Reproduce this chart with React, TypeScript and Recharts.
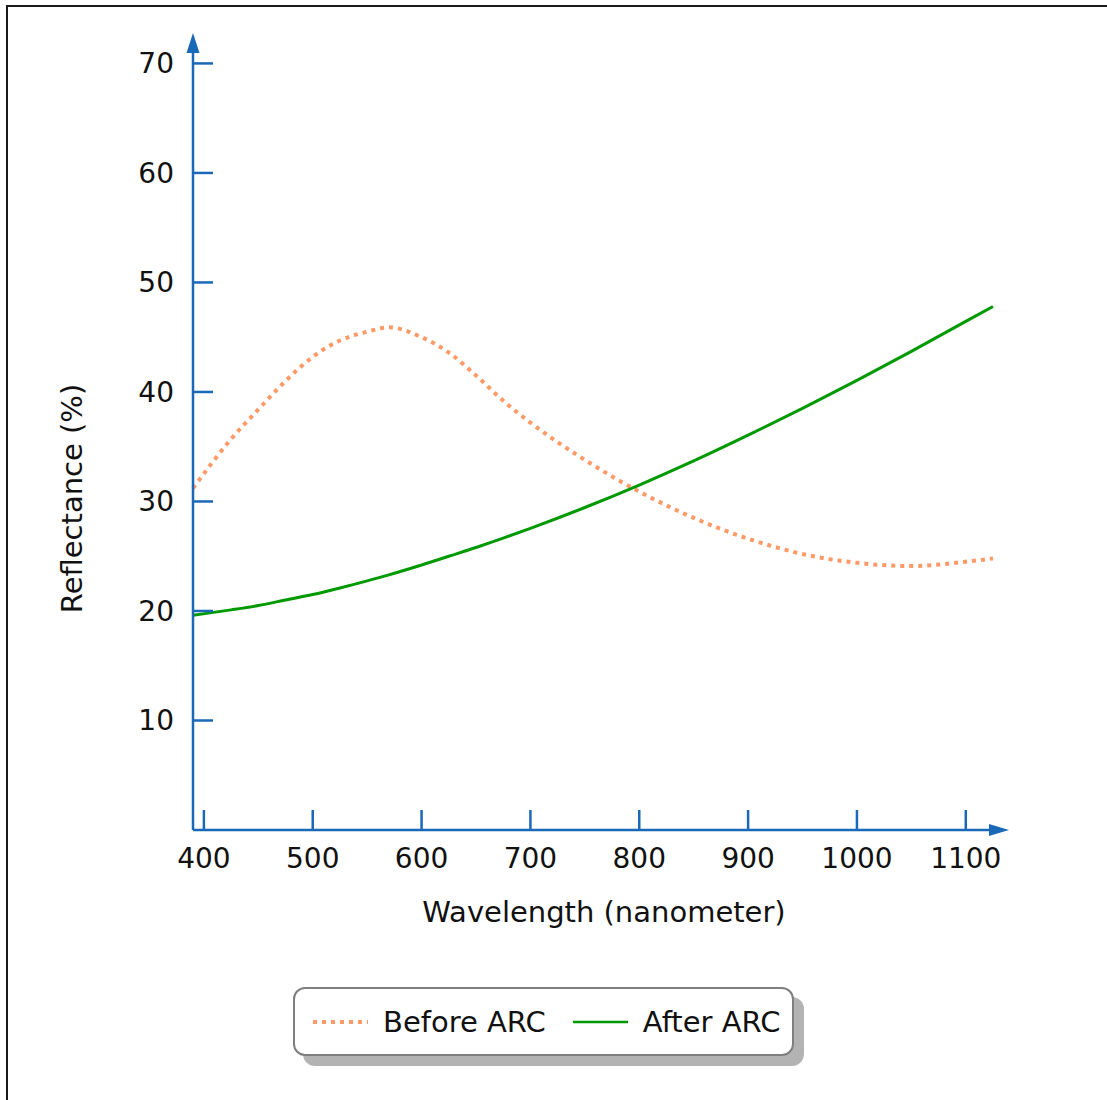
import React from "react"
import { LineChart, Line, XAxis, YAxis, Legend, ReferenceDot } from "recharts"

const wavelengths = [390, 425, 450, 475, 500, 525, 550, 570, 600, 625, 650, 675, 700, 750, 800, 850, 900, 950, 1000, 1050, 1100, 1125]
const beforeArc = [31.2, 35.7, 38.4, 41.0, 43.2, 44.7, 45.5, 45.9, 45.0, 43.6, 41.5, 39.2, 37.2, 33.8, 30.9, 28.5, 26.6, 25.2, 24.4, 24.1, 24.5, 24.8]
const afterArc = [19.6, 20.1, 20.5, 21.0, 21.5, 22.1, 22.75, 23.3, 24.2, 25.0, 25.8, 26.65, 27.55, 29.45, 31.5, 33.7, 36.05, 38.5, 41.05, 43.7, 46.45, 47.8]

const xTicks = [400, 500, 600, 700, 800, 900, 1000, 1100]
const yTicks = [10, 20, 30, 40, 50, 60, 70]
const legendOrder = ["Before ARC", "After ARC"]

const AXIS = "#1a68b8"
const ORANGE = "#ff9966"
const GREEN = "#009900"
const FONT = "'DejaVu Sans', Verdana, sans-serif"

const data = wavelengths.map((w, i) => ({ w, before: beforeArc[i], after: afterArc[i] }))

const renderXTick = (props: any) => {
  const { x, y, payload } = props
  return (
    <g>
      <line x1={x} x2={x} y1={y} y2={y - 20} stroke={AXIS} strokeWidth={2.5} />
      <text x={x} y={y + 38} textAnchor="middle" fontSize={28} fill="#111" fontFamily={FONT}>{payload.value}</text>
    </g>
  )
}

const renderYTick = (props: any) => {
  const { x, y, payload } = props
  return (
    <g>
      <line x1={x} x2={x + 20} y1={y} y2={y} stroke={AXIS} strokeWidth={2.5} />
      <text x={x - 19} y={y + 10} textAnchor="end" fontSize={28} fill="#111" fontFamily={FONT}>{payload.value}</text>
    </g>
  )
}

const renderLegend = (props: any) => {
  const items = [...(props.payload || [])].sort(
    (a: any, b: any) => legendOrder.indexOf(a.value) - legendOrder.indexOf(b.value)
  )
  return (
    <div style={{ position: "relative", width: 501, height: 69, fontFamily: FONT }}>
      <div style={{ position: "absolute", left: 10, top: 10, width: 501, height: 69, borderRadius: 12, background: "#b3b3b3" }} />
      <div
        style={{
          position: "absolute", left: 0, top: 0, width: 501, height: 69, boxSizing: "border-box",
          border: "2px solid #7f7f7f", borderRadius: 12, background: "#fff",
          display: "flex", alignItems: "center", paddingLeft: 18,
        }}
      >
        {items.map((it: any, i: number) => (
          <div key={it.value} style={{ display: "flex", alignItems: "center", marginLeft: i === 0 ? 0 : 27 }}>
            <svg width={55} height={10}>
              <line x1={0} x2={55} y1={5} y2={5} stroke={it.color} strokeWidth={it.payload?.strokeDasharray ? 4 : 2.5}
                strokeDasharray={it.payload?.strokeDasharray} />
            </svg>
            <span style={{ marginLeft: 15, fontSize: 29, color: "#111", lineHeight: "32px" }}>{it.value}</span>
          </div>
        ))}
      </div>
    </div>
  )
}

export default function App() {
  return (
    <div style={{ position: "absolute", left: 0, top: 0, width: 1107, height: 1100, overflow: "hidden", background: "#fff" }}>
      <div style={{ position: "absolute", left: 6, top: 5, width: 1200, height: 1200, border: "2px solid #1a1a1a" }} />
      <div style={{ position: "absolute", left: 0, top: 0 }}>
        <LineChart width={1107} height={1100} data={data} margin={{ top: 47, right: 114, bottom: 170, left: 53 }}>
          <XAxis
            dataKey="w"
            type="number"
            domain={[390, 1125]}
            ticks={xTicks}
            height={100}
            axisLine={{ stroke: AXIS, strokeWidth: 2.5 }}
            tickLine={false}
            tickSize={0}
            tickMargin={0}
            tick={renderXTick}
            interval={0}
            label={{
              content: (p: any) => {
                const vb = p.viewBox || { x: 193, y: 830, width: 800 }
                return (
                  <text x={vb.x + vb.width / 2 + 11} y={vb.y + 92} textAnchor="middle" fontSize={29} fill="#111" fontFamily={FONT}>
                    Wavelength (nanometer)
                  </text>
                )
              },
            }}
          />
          <YAxis
            type="number"
            domain={[0, 71.5]}
            ticks={yTicks}
            width={140}
            axisLine={{ stroke: AXIS, strokeWidth: 2.5 }}
            tickLine={false}
            tickSize={0}
            tickMargin={0}
            tick={renderYTick}
            interval={0}
            label={{
              content: (p: any) => {
                const vb = p.viewBox || { x: 53, y: 47, height: 783 }
                const cx = vb.x + 29
                const cy = vb.y + vb.height / 2 + 60
                return (
                  <text x={cx} y={cy} transform={`rotate(-90 ${cx} ${cy})`} textAnchor="middle" fontSize={29} fill="#111" fontFamily={FONT}>
                    Reflectance (%)
                  </text>
                )
              },
            }}
          />
          <Line
            type="monotone"
            dataKey="before"
            name="Before ARC"
            stroke={ORANGE}
            strokeWidth={4}
            strokeDasharray="4 5"
            dot={false}
            activeDot={false}
            isAnimationActive={false}
          />
          <Line
            type="monotone"
            dataKey="after"
            name="After ARC"
            stroke={GREEN}
            strokeWidth={3}
            dot={false}
            activeDot={false}
            isAnimationActive={false}
          />
          <ReferenceDot
            x={1125}
            y={0}
            ifOverflow="visible"
            shape={(p: any) => (
              <polygon points={`${p.cx - 4},${p.cy - 6} ${p.cx + 16},${p.cy} ${p.cx - 4},${p.cy + 6}`} fill={AXIS} />
            )}
          />
          <ReferenceDot
            x={390}
            y={71.5}
            ifOverflow="visible"
            shape={(p: any) => (
              <polygon points={`${p.cx - 6.5},${p.cy + 6} ${p.cx},${p.cy - 14} ${p.cx + 6.5},${p.cy + 6}`} fill={AXIS} />
            )}
          />
          <Legend
            layout="horizontal"
            verticalAlign="middle"
            align="center"
            wrapperStyle={{ left: 293, top: 987, width: 511, height: 79 }}
            content={renderLegend}
          />
        </LineChart>
      </div>
    </div>
  )
}
